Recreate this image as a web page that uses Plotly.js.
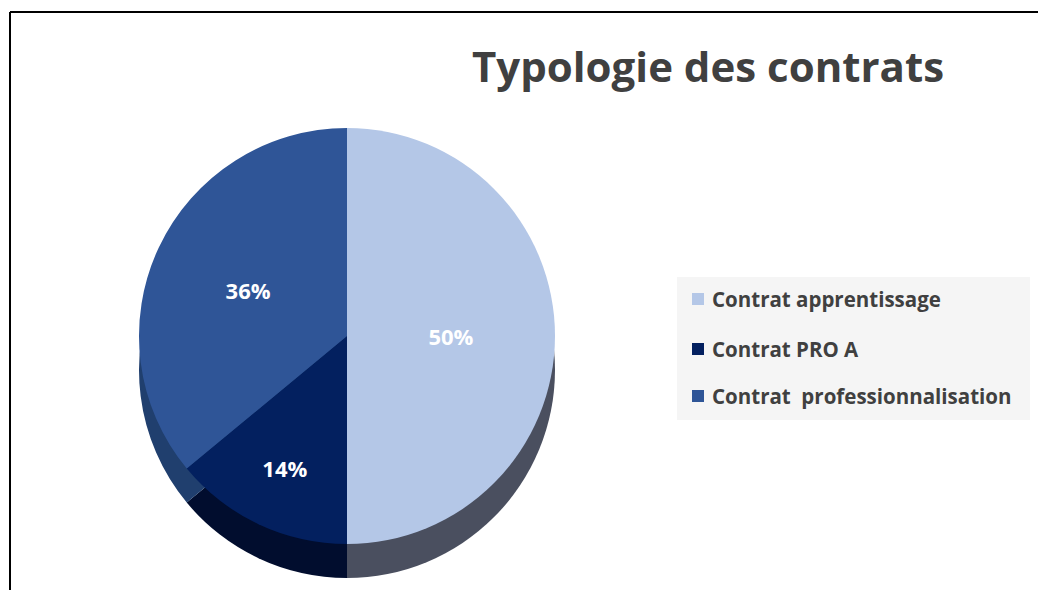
<!DOCTYPE html>
<html>
<head>
<meta charset="utf-8">
<script src="https://cdn.plot.ly/plotly-3.0.1.min.js"></script>
<style>
  html, body { margin: 0; padding: 0; background: #ffffff; }
  #chart { width: 1038px; height: 590px; }
</style>
</head>
<body>
<div id="chart"></div>
<script>
// ---- data ----
const labels = ["Contrat apprentissage", "Contrat PRO A", "Contrat  professionnalisation"];
const values = [50, 14, 36];
const topColors = ["#b4c7e7", "#03205f", "#2f5597"];
const sideColors = ["#4a4f5f", "#010d2e", "#203f6e"];
const chartTitle = "Typologie des contrats";

// ---- layout helpers (pixel -> paper) ----
const W = 1038, H = 590;
const px = x => x / W;
const py = y => 1 - y / H;

const cx = 347, cy = 336, r = 208, depth = 34;
const FONT = "'Open Sans', Lato, sans-serif";

const sidePie = {
  type: "pie",
  labels: labels,
  values: values,
  sort: false,
  direction: "clockwise",
  rotation: 0,
  marker: { colors: sideColors, line: { width: 0 } },
  textinfo: "none",
  hoverinfo: "skip",
  showlegend: false,
  domain: { x: [px(cx - r), px(cx + r)], y: [py(cy + depth + r), py(cy + depth - r)] }
};

const topPie = {
  type: "pie",
  labels: labels,
  values: values,
  sort: false,
  direction: "clockwise",
  rotation: 0,
  marker: { colors: topColors, line: { width: 0 } },
  texttemplate: "%{percent:.0%}",
  textposition: "inside",
  insidetextorientation: "horizontal",
  insidetextfont: { family: FONT, size: 22, color: "#ffffff", weight: "bold" },
  showlegend: false,
  domain: { x: [px(cx - r), px(cx + r)], y: [py(cy + r), py(cy - r)] }
};

// legend built from labels
const legX0 = 677, legX1 = 1030, legY0 = 277, legY1 = 420;
const itemY = [299, 349, 396];
const shapes = [
  // frame lines
  { type: "line", xref: "paper", yref: "paper", x0: px(10), x1: px(10), y0: 0, y1: py(12), line: { color: "#000000", width: 2 } },
  { type: "line", xref: "paper", yref: "paper", x0: px(10), x1: 1, y0: py(12), y1: py(12), line: { color: "#000000", width: 2 } },
  // legend background
  { type: "rect", xref: "paper", yref: "paper", layer: "below",
    x0: px(legX0), x1: px(legX1), y0: py(legY1), y1: py(legY0),
    fillcolor: "#f5f5f5", line: { width: 0 } }
];
const annotations = [];
labels.forEach((lab, i) => {
  shapes.push({ type: "rect", xref: "paper", yref: "paper",
    x0: px(692), x1: px(704), y0: py(itemY[i] + 6), y1: py(itemY[i] - 6),
    fillcolor: topColors[i], line: { width: 0 } });
  annotations.push({ xref: "paper", yref: "paper", x: px(710), y: py(itemY[i]),
    xanchor: "left", yanchor: "middle", showarrow: false, text: lab.replace(/  /g, "&nbsp; "),
    font: { family: FONT, size: 20.5, color: "#404040", weight: "bold" } });
});

const layout = {
  width: W, height: H,
  margin: { l: 0, r: 0, t: 0, b: 0 },
  paper_bgcolor: "#ffffff",
  plot_bgcolor: "#ffffff",
  showlegend: false,
  title: {
    text: chartTitle,
    x: px(708), xanchor: "center", xref: "paper",
    y: py(67), yanchor: "middle", yref: "paper",
    font: { family: FONT, size: 42, color: "#404040", weight: "bold" }
  },
  shapes: shapes,
  annotations: annotations
};

Plotly.newPlot("chart", [sidePie, topPie], layout, { displayModeBar: false, staticPlot: true });
</script>
</body>
</html>
